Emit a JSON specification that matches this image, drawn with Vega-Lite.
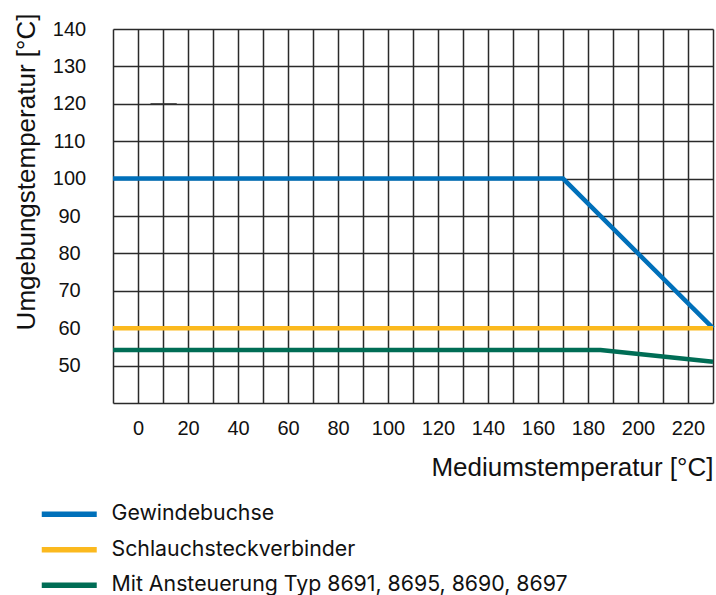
{
  "$schema": "https://vega.github.io/schema/vega-lite/v6.json",
  "width": 600,
  "height": 374,
  "autosize": {"type": "none"},
  "padding": {"left": 113, "top": 29, "right": 3, "bottom": 192},
  "background": "white",
  "config": {"view": {"stroke": null}},
  "datasets": {
    "series": [
      {"series": "Gewindebuchse", "x": -10, "y": 100},
      {"series": "Gewindebuchse", "x": 170, "y": 100},
      {"series": "Gewindebuchse", "x": 230, "y": 60},
      {"series": "Schlauchsteckverbinder", "x": -10, "y": 60},
      {"series": "Schlauchsteckverbinder", "x": 230, "y": 60},
      {"series": "Mit Ansteuerung Typ 8691, 8695, 8690, 8697", "x": -10, "y": 54.2},
      {"series": "Mit Ansteuerung Typ 8691, 8695, 8690, 8697", "x": 185, "y": 54.2},
      {"series": "Mit Ansteuerung Typ 8691, 8695, 8690, 8697", "x": 230, "y": 51}
    ],
    "dash": [
      {"x": 5, "y": 120},
      {"x": 15.5, "y": 120}
    ]
  },
  "layer": [
    {
      "data": {"name": "series"},
      "mark": {"type": "line", "strokeWidth": 4.5, "strokeCap": "butt"},
      "encoding": {
        "x": {
          "field": "x", "type": "quantitative",
          "scale": {"domain": [-10, 230], "nice": false, "zero": false},
          "axis": {
            "values": [-10, 0, 10, 20, 30, 40, 50, 60, 70, 80, 90, 100, 110, 120, 130, 140, 150, 160, 170, 180, 190, 200, 210, 220, 230],
            "tickCount": 50,
            "labelExpr": "(datum.value % 20 == 0 && datum.value >= 0 && datum.value <= 220) ? datum.label : ''",
            "grid": true, "gridColor": "#2a2a2a", "gridWidth": 1.5, "gridOpacity": 1,
            "ticks": false, "domain": false,
            "labelFont": "Liberation Sans", "labelFontSize": 20, "labelColor": "#111111", "labelPadding": 15,
            "labelFlush": false, "labelOverlap": false,
            "title": "Mediumstemperatur [°C]",
            "titleFont": "Liberation Sans", "titleFontSize": 26, "titleFontWeight": "normal", "titleColor": "#111111",
            "titleAnchor": "end", "titleAlign": "right", "titleX": 600, "titleY": 72, "titleBaseline": "alphabetic"
          }
        },
        "y": {
          "field": "y", "type": "quantitative",
          "scale": {"domain": [40, 140], "nice": false, "zero": false},
          "axis": {
            "values": [40, 50, 60, 70, 80, 90, 100, 110, 120, 130, 140],
            "tickCount": 50,
            "labelExpr": "datum.value == 40 ? '' : datum.label",
            "grid": true, "gridColor": "#2a2a2a", "gridWidth": 1.5, "gridOpacity": 1,
            "ticks": false, "domain": false,
            "labelFont": "Liberation Sans", "labelFontSize": 20, "labelColor": "#111111", "labelPadding": 44,
            "labelAlign": "center", "labelBaseline": "middle",
            "labelFlush": false, "labelOverlap": false,
            "title": "Umgebungstemperatur [°C]",
            "titleFont": "Liberation Sans", "titleFontSize": 26, "titleFontWeight": "normal", "titleColor": "#111111",
            "titleAngle": 270, "titleAlign": "center", "titleBaseline": "middle",
            "titleX": -86.5, "titleY": 142.5
          }
        },
        "color": {
          "field": "series", "type": "nominal",
          "scale": {
            "domain": ["Gewindebuchse", "Schlauchsteckverbinder", "Mit Ansteuerung Typ 8691, 8695, 8690, 8697"],
            "range": ["#0070ba", "#fbb91e", "#006d55"]
          },
          "legend": {
            "title": null, "orient": "none", "legendX": -60.25, "legendY": 468.75,
            "direction": "vertical",
            "symbolType": "M-2,0H2", "symbolSize": 756, "symbolStrokeWidth": 5.5,
            "labelFont": "Inter", "labelFontSize": 21.3, "labelColor": "#111111",
            "labelOffset": 25.75, "rowPadding": 7.5, "labelLimit": 600
          }
        }
      }
    },
    {
      "data": {"name": "dash"},
      "mark": {"type": "line", "color": "#333333", "strokeWidth": 1.2},
      "encoding": {
        "x": {"field": "x", "type": "quantitative"},
        "y": {"field": "y", "type": "quantitative"}
      }
    }
  ]
}
